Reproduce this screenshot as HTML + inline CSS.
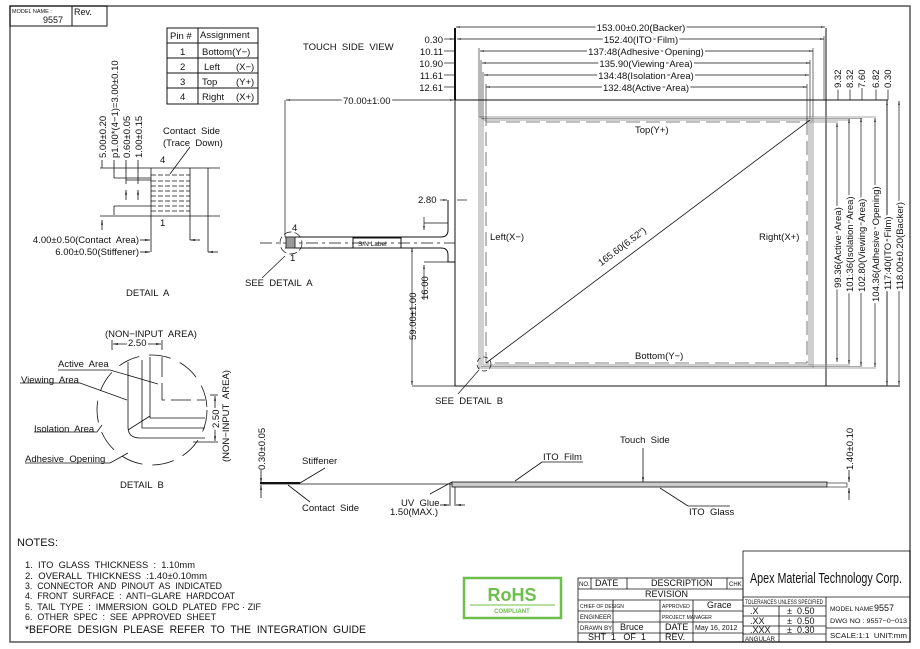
<!DOCTYPE html>
<html><head><meta charset="utf-8"><style>
html,body{margin:0;padding:0;background:#fff;}
svg{display:block;font-family:"Liberation Sans",sans-serif;}
text{fill:#111;white-space:pre;}
</style></head><body>
<svg width="920" height="649" viewBox="0 0 920 649" xmlns="http://www.w3.org/2000/svg" xml:space="preserve">
<defs>
<marker id="a" viewBox="0 0 10 10" refX="10" refY="5" markerWidth="6" markerHeight="6" orient="auto-start-reverse"><path d="M0,3 L10,5 L0,7 z" fill="#111"/></marker>
</defs>
<rect x="0" y="0" width="920" height="649" fill="#fff"/>
<rect x="10" y="6" width="900" height="636" fill="none" stroke="#555" stroke-width="1.5"/>
<g stroke="#111" fill="none" stroke-width="1">
<rect x="10" y="6" width="97" height="20"/><line x1="72" y1="6" x2="72" y2="26"/>
<rect x="167" y="28" width="91" height="76"/><line x1="198" y1="28" x2="198" y2="104"/>
<line x1="167" y1="43" x2="258" y2="43"/><line x1="167" y1="58" x2="258" y2="58"/><line x1="167" y1="73" x2="258" y2="73"/><line x1="167" y1="88" x2="258" y2="88"/>
</g>
<g font-size="7"><text x="12" y="13" font-size="5.5">MODEL NAME :</text><text x="43" y="23" font-size="9">9557</text><text x="74" y="15" font-size="9">Rev.</text></g>
<g font-size="9.5">
<text x="170" y="39">Pin #</text><text x="200" y="38">Assignment</text>
<text x="180" y="55">1</text><text x="202" y="55">Bottom(Y−)</text>
<text x="180" y="70">2</text><text x="204" y="70">Left</text><text x="236" y="70">(X−)</text>
<text x="180" y="85">3</text><text x="202" y="85">Top</text><text x="236" y="85">(Y+)</text>
<text x="180" y="100">4</text><text x="202" y="100">Right</text><text x="236" y="100">(X+)</text>
<text x="303" y="50">TOUCH  SIDE  VIEW</text>
</g>
<g stroke="#111" fill="none">
<line x1="455" y1="28" x2="455" y2="386"/><line x1="826" y1="28" x2="826" y2="386"/>
<line x1="455" y1="100" x2="888" y2="100"/><line x1="455" y1="386" x2="900" y2="386"/>
<line x1="455" y1="28" x2="455" y2="100" stroke-width="2"/>
<line x1="887" y1="100" x2="887" y2="386" stroke-width="0.7"/>
</g>
<g fill="none" stroke="#888" stroke-width="0.8">
<rect x="479" y="117" width="334" height="251"/>
<rect x="481" y="118.5" width="330" height="248"/>
<rect x="483" y="120" width="326" height="245"/>
<line x1="813" y1="117" x2="876" y2="117"/><line x1="811" y1="118.5" x2="862" y2="118.5"/><line x1="809" y1="120" x2="850" y2="120"/><line x1="809" y1="122" x2="838" y2="122"/>
<line x1="813" y1="368" x2="876" y2="368"/><line x1="811" y1="366.5" x2="862" y2="366.5"/><line x1="809" y1="365" x2="850" y2="365"/>
</g>
<rect x="486" y="122" width="321" height="241" fill="none" stroke="#555" stroke-dasharray="14,6" stroke-width="0.8"/>
<line x1="486" y1="363" x2="810" y2="120" stroke="#111" stroke-width="0.8"/>
<text transform="translate(624,249) rotate(-37)" font-size="9.5" text-anchor="middle" style="fill:#111;paint-order:stroke;stroke:#fff;stroke-width:3px">165.60(6.52")</text>
<g font-size="9.5">
<text x="635" y="133">Top(Y+)</text><text x="635" y="359">Bottom(Y−)</text>
<text x="490" y="240">Left(X−)</text><text x="759" y="240">Right(X+)</text>
</g>
<g stroke="#111" stroke-width="0.7" marker-start="url(#a)" marker-end="url(#a)">
<line x1="456" y1="27" x2="825" y2="27"/><line x1="457" y1="39" x2="824" y2="39"/>
<line x1="480" y1="51" x2="813" y2="51"/><line x1="482" y1="63" x2="810" y2="63"/>
<line x1="484" y1="75" x2="809" y2="75"/><line x1="486" y1="87" x2="807" y2="87"/>
</g>
<g stroke="#111" stroke-width="0.6"><line x1="479" y1="48" x2="479" y2="117"/><line x1="813" y1="48" x2="813" y2="117"/><line x1="481" y1="60" x2="481" y2="118"/><line x1="810" y1="60" x2="810" y2="118"/><line x1="483" y1="72" x2="483" y2="120"/><line x1="486" y1="84" x2="486" y2="122"/><line x1="807" y1="84" x2="807" y2="122"/><line x1="824" y1="36" x2="824" y2="100"/></g>
<g font-size="9.5" text-anchor="middle" style="paint-order:stroke;stroke:#fff;stroke-width:4px">
<text x="641" y="31">153.00±0.20(Backer)</text><text x="641" y="43">152.40(ITO  Film)</text>
<text x="646" y="55">137.48(Adhesive  Opening)</text><text x="646" y="67">135.90(Viewing  Area)</text>
<text x="646" y="79">134.48(Isolation  Area)</text><text x="646" y="91">132.48(Active  Area)</text>
</g>
<g font-size="9.5" text-anchor="end">
<text x="443" y="43">0.30</text><text x="443" y="55">10.11</text><text x="443" y="67">10.90</text><text x="443" y="79">11.61</text><text x="443" y="91">12.61</text>
</g>
<g stroke="#111" stroke-width="0.7"><line x1="444" y1="39" x2="454" y2="39" marker-end="url(#a)"/><line x1="444" y1="51" x2="454" y2="51"/><line x1="444" y1="63" x2="454" y2="63"/><line x1="444" y1="75" x2="454" y2="75"/><line x1="444" y1="87" x2="454" y2="87"/></g>
<g stroke="#111" stroke-width="0.7" marker-start="url(#a)" marker-end="url(#a)">
<line x1="837" y1="123" x2="837" y2="362"/><line x1="849" y1="119" x2="849" y2="364"/><line x1="861" y1="118" x2="861" y2="366"/><line x1="875" y1="118" x2="875" y2="367"/><line x1="887" y1="101" x2="887" y2="385"/><line x1="899" y1="101" x2="899" y2="385"/>
</g>
<g stroke="#111" stroke-width="0.7"><line x1="838" y1="88" x2="838" y2="100"/><line x1="850" y1="88" x2="850" y2="100"/><line x1="862" y1="88" x2="862" y2="100"/><line x1="876" y1="88" x2="876" y2="100"/><line x1="888" y1="88" x2="888" y2="100"/></g>
<g font-size="9.5" style="paint-order:stroke;stroke:#fff;stroke-width:4px">
<text transform="translate(841,288) rotate(-90)">99.36(Active  Area)</text>
<text transform="translate(853,292) rotate(-90)">101.36(Isolation  Area)</text>
<text transform="translate(865,292) rotate(-90)">102.80(Viewing  Area)</text>
<text transform="translate(879,302) rotate(-90)">104.36(Adhesive  Opening)</text>
<text transform="translate(891,290) rotate(-90)">117.40(ITO  Film)</text>
<text transform="translate(903,290) rotate(-90)">118.00±0.20(Backer)</text>
<text transform="translate(841,88) rotate(-90)">9.32</text><text transform="translate(853,88) rotate(-90)">8.32</text><text transform="translate(865,88) rotate(-90)">7.60</text><text transform="translate(879,88) rotate(-90)">6.82</text><text transform="translate(891,88) rotate(-90)">0.30</text>
</g>
<g stroke="#111" fill="none" stroke-width="1">
<path d="M285,237 H441 Q448,237 448,230 V200"/>
<path d="M285,248 H441 Q448,248 448,255 V262 H455"/>
<line x1="285" y1="100" x2="285" y2="237" stroke-width="0.7"/>
<line x1="286" y1="100" x2="454" y2="100" stroke-width="0.7" marker-start="url(#a)" marker-end="url(#a)"/>
<rect x="353" y="238" width="48" height="10" fill="#fff"/>
<line x1="260" y1="243" x2="455" y2="243" stroke-dasharray="12,4,3,4" stroke-width="0.7"/>
<rect x="286" y="237" width="9" height="11" fill="#999" stroke="#333"/>
<circle cx="291" cy="243" r="11" stroke-dasharray="8,3" stroke-width="0.7"/>
<line x1="285" y1="256" x2="262" y2="278" stroke-width="0.7"/>
<line x1="412" y1="248" x2="412" y2="385" stroke-width="0.7" marker-start="url(#a)" marker-end="url(#a)"/>
<line x1="412" y1="386" x2="455" y2="386" stroke-width="0.7"/>
<line x1="424" y1="265" x2="424" y2="300" stroke-width="0.7" marker-start="url(#a)"/>
<line x1="424" y1="262" x2="448" y2="262" stroke-width="0.7"/>
<line x1="424" y1="230" x2="424" y2="217" stroke-width="0.7" marker-start="url(#a)"/>
<line x1="424" y1="223" x2="448" y2="223" stroke-width="0.7"/>
<line x1="440" y1="200" x2="447" y2="200" stroke-width="0.7" marker-end="url(#a)"/>
<line x1="457" y1="200" x2="467" y2="200" stroke-width="0.7"/>
<circle cx="484" cy="364" r="7" stroke-dasharray="5,3" stroke-width="0.7"/>
<line x1="479" y1="370" x2="458" y2="394" stroke-width="0.7"/>
</g>
<text x="358" y="246" font-size="6.5">S/N Label</text>
<g font-size="9.5">
<text x="292" y="231">4</text><text x="290" y="261">1</text>
<text x="245" y="286">SEE  DETAIL  A</text><text x="435" y="404">SEE  DETAIL  B</text>
<text x="418" y="203">2.80</text>
<text transform="translate(416,340) rotate(-90)">59.00±1.00</text>
<text transform="translate(428,300) rotate(-90)">16.00</text>
<text x="343" y="104" style="paint-order:stroke;stroke:#fff;stroke-width:4px">70.00±1.00</text>
</g>
<g stroke="#111" fill="none" stroke-width="0.8">
<line x1="100" y1="168" x2="220" y2="168"/><line x1="100" y1="216" x2="220" y2="216"/>
<line x1="151" y1="168" x2="151" y2="252"/><line x1="190" y1="168" x2="190" y2="240"/><line x1="208" y1="168" x2="208" y2="252"/>
<g stroke-dasharray="5,2"><line x1="151" y1="175" x2="190" y2="175"/><line x1="151" y1="181" x2="190" y2="181"/><line x1="151" y1="186" x2="190" y2="186"/><line x1="151" y1="191" x2="190" y2="191"/><line x1="151" y1="196" x2="190" y2="196"/><line x1="151" y1="201" x2="190" y2="201"/><line x1="151" y1="206" x2="190" y2="206"/><line x1="151" y1="211" x2="190" y2="211"/></g>
<line x1="170" y1="174" x2="190" y2="147"/>
<line x1="102" y1="160" x2="102" y2="168"/><line x1="114" y1="160" x2="114" y2="178"/><line x1="114" y1="178" x2="151" y2="178"/><line x1="126" y1="160" x2="126" y2="184"/><line x1="138" y1="160" x2="138" y2="184"/>
<line x1="126" y1="180" x2="151" y2="180"/>
<line x1="126" y1="190" x2="126" y2="200" marker-start="url(#a)"/><line x1="138" y1="190" x2="138" y2="200" marker-start="url(#a)"/>
<line x1="114" y1="206" x2="114" y2="215"/><line x1="114" y1="206" x2="151" y2="206"/>
<line x1="102" y1="220" x2="102" y2="230" marker-start="url(#a)"/>
<line x1="140" y1="240" x2="150" y2="240" marker-end="url(#a)"/><line x1="140" y1="252" x2="150" y2="252" marker-end="url(#a)"/>
<line x1="200" y1="240" x2="190" y2="240" marker-end="url(#a)"/><line x1="218" y1="252" x2="208" y2="252" marker-end="url(#a)"/>
</g>
<g font-size="9.5">
<text transform="translate(106,158) rotate(-90)">5.00±0.20</text>
<text transform="translate(118,158) rotate(-90)">p1.00*(4−1)=3.00±0.10</text>
<text transform="translate(130,158) rotate(-90)">0.60±0.05</text>
<text transform="translate(142,158) rotate(-90)">1.00±0.15</text>
<text x="163" y="134">Contact  Side</text><text x="163" y="146">(Trace  Down)</text>
<text x="160" y="163">4</text><text x="160" y="226">1</text>
<text x="139" y="243" text-anchor="end">4.00±0.50(Contact  Area)</text>
<text x="139" y="255" text-anchor="end">6.00±0.50(Stiffener)</text>
<text x="126" y="296">DETAIL  A</text>
</g>
<g stroke="#111" fill="none" stroke-width="0.8">
<circle cx="152" cy="410" r="55" stroke-dasharray="22,10"/>
<path d="M128,362 V427 Q128,438 140,438 H205"/>
<path d="M142,360 V428 H205"/>
<path d="M150,357 V418 H205"/>
<path d="M162,357 V400 H205" stroke-dasharray="20,6"/>
<line x1="112" y1="350" x2="112" y2="340"/><line x1="162" y1="350" x2="162" y2="340"/>
<line x1="113" y1="344" x2="161" y2="344" marker-start="url(#a)" marker-end="url(#a)"/>
<line x1="210" y1="395" x2="218" y2="395"/><line x1="193" y1="442" x2="218" y2="442"/>
<line x1="215" y1="396" x2="215" y2="441" marker-start="url(#a)" marker-end="url(#a)"/>
<path d="M58,370 H110 L158,384"/>
<path d="M20,383 H80 L127,400"/>
<path d="M34,432 H97 L102,425"/>
<path d="M25,463 H110 L128,453"/>
<line x1="128" y1="430" x2="150" y2="416"/>
</g>
<g font-size="9.5">
<text x="105" y="337">(NON−INPUT  AREA)</text>
<text x="128" y="346" style="paint-order:stroke;stroke:#fff;stroke-width:4px">2.50</text>
<text transform="translate(219,428) rotate(-90)" style="paint-order:stroke;stroke:#fff;stroke-width:4px">2.50</text>
<text transform="translate(229,462) rotate(-90)">(NON−INPUT  AREA)</text>
<text x="58" y="367">Active  Area</text><text x="21" y="383">Viewing  Area</text>
<text x="34" y="432">Isolation  Area</text><text x="25" y="462">Adhesive  Opening</text>
<text x="120" y="488">DETAIL  B</text>
</g>
<g stroke="#111" fill="none" stroke-width="0.8">
<line x1="260" y1="484" x2="452" y2="484"/>
<line x1="260" y1="483" x2="300" y2="483" stroke-width="2"/>
<rect x="452" y="482" width="375" height="5" fill="#ccc"/>
<rect x="827" y="483" width="20" height="4" fill="#fff" stroke-width="0.6"/>
<line x1="261" y1="470" x2="261" y2="483" marker-end="url(#a)"/><line x1="261" y1="498" x2="261" y2="485" marker-end="url(#a)"/>
<line x1="849" y1="470" x2="849" y2="482" marker-end="url(#a)"/><line x1="849" y1="500" x2="849" y2="488" marker-end="url(#a)"/>
<line x1="300" y1="483" x2="325" y2="468"/><line x1="288" y1="485" x2="310" y2="502"/>
<line x1="450" y1="484" x2="450" y2="506"/><line x1="455" y1="487" x2="455" y2="506"/>
<line x1="440" y1="505" x2="449" y2="505" marker-end="url(#a)"/><line x1="465" y1="505" x2="456" y2="505" marker-end="url(#a)"/>
<line x1="452" y1="482" x2="430" y2="494"/>
<line x1="515" y1="481" x2="542" y2="462" /><line x1="542" y1="462" x2="583" y2="462"/>
<line x1="643" y1="448" x2="643" y2="482" marker-end="url(#a)"/>
<line x1="660" y1="488" x2="688" y2="506"/><line x1="688" y1="506" x2="730" y2="506"/>
</g>
<g font-size="9.5">
<text transform="translate(265,470) rotate(-90)">0.30±0.05</text>
<text transform="translate(853,470) rotate(-90)">1.40±0.10</text>
<text x="302" y="464">Stiffener</text><text x="302" y="511">Contact  Side</text>
<text x="401" y="506">UV  Glue</text><text x="390" y="515">1.50(MAX.)</text>
<text x="543" y="460">ITO  Film</text><text x="620" y="443">Touch  Side</text><text x="689" y="515">ITO  Glass</text>
</g>
<g font-size="9.5">
<text x="17" y="546" font-size="11">NOTES:</text>
<text x="25" y="568" textLength="170" lengthAdjust="spacingAndGlyphs">1.  ITO  GLASS  THICKNESS  :  1.10mm</text>
<text x="25" y="579" textLength="182" lengthAdjust="spacingAndGlyphs">2.  OVERALL  THICKNESS  :1.40±0.10mm</text>
<text x="25" y="589" textLength="197" lengthAdjust="spacingAndGlyphs">3.  CONNECTOR  AND  PINOUT  AS  INDICATED</text>
<text x="25" y="599" textLength="210" lengthAdjust="spacingAndGlyphs">4.  FRONT  SURFACE  :  ANTI−GLARE  HARDCOAT</text>
<text x="25" y="610" textLength="236" lengthAdjust="spacingAndGlyphs">5.  TAIL  TYPE  :  IMMERSION  GOLD  PLATED  FPC · ZIF</text>
<text x="25" y="620" textLength="191" lengthAdjust="spacingAndGlyphs">6.  OTHER  SPEC  :  SEE  APPROVED  SHEET</text>
<text x="25" y="633" font-size="11" textLength="341" lengthAdjust="spacingAndGlyphs">*BEFORE  DESIGN  PLEASE  REFER  TO  THE  INTEGRATION  GUIDE</text>
</g>
<rect x="464" y="578" width="97" height="40" fill="#fff" stroke="#6cbf4a" stroke-width="2.5"/>
<line x1="470" y1="605" x2="555" y2="605" stroke="#6cbf4a"/>
<text x="512" y="601" font-size="18" font-weight="bold" text-anchor="middle" style="fill:#6cbf4a">RoHS</text>
<text x="512" y="613" font-size="6" font-weight="bold" text-anchor="middle" style="fill:#6cbf4a">COMPLIANT</text>
<g stroke="#111" fill="none" stroke-width="0.8">
<rect x="743" y="551" width="167" height="91"/>
<line x1="743" y1="597" x2="910" y2="597"/><line x1="826" y1="597" x2="826" y2="642"/>
<line x1="743" y1="606" x2="826" y2="606"/><line x1="743" y1="616" x2="826" y2="616"/><line x1="743" y1="626" x2="826" y2="626"/><line x1="743" y1="634" x2="826" y2="634"/>
<line x1="779" y1="606" x2="779" y2="642"/><line x1="826" y1="628" x2="910" y2="628"/>
<rect x="578" y="578" width="165" height="64"/>
<line x1="578" y1="589" x2="743" y2="589"/><line x1="578" y1="600" x2="743" y2="600"/><line x1="578" y1="611" x2="743" y2="611"/><line x1="578" y1="622" x2="743" y2="622"/><line x1="578" y1="633" x2="743" y2="633"/>
<line x1="591" y1="578" x2="591" y2="589"/><line x1="627" y1="578" x2="627" y2="589"/><line x1="727" y1="578" x2="727" y2="589"/>
<line x1="613" y1="600" x2="613" y2="633"/><line x1="660" y1="600" x2="660" y2="642"/><line x1="693" y1="600" x2="693" y2="642"/>
</g>
<g font-size="9">
<text x="750" y="583" font-size="15" textLength="152" lengthAdjust="spacingAndGlyphs">Apex Material Technology Corp.</text>
<text x="745" y="604" font-size="6" textLength="78" lengthAdjust="spacingAndGlyphs">TOLERANCES UNLESS SPECIFIED</text>
<text x="750" y="614">.X</text><text x="787" y="614">±  0.50</text>
<text x="750" y="624">.XX</text><text x="787" y="624">±  0.50</text>
<text x="750" y="633">.XXX</text><text x="787" y="633">±  0.30</text>
<text x="745" y="641" font-size="6.5" textLength="30" lengthAdjust="spacingAndGlyphs">ANGULAR</text>
<text x="830" y="611" font-size="6.5">MODEL NAME :</text><text x="874" y="611">9557</text>
<text x="830" y="623" font-size="6.5" textLength="77" lengthAdjust="spacingAndGlyphs">DWG NO : 9557−0−013</text>
<text x="830" y="638" font-size="7.5" textLength="77" lengthAdjust="spacingAndGlyphs">SCALE:1:1  UNIT:mm</text>
<text x="579" y="586" font-size="6">NO.</text><text x="595" y="586">DATE</text><text x="651" y="586">DESCRIPTION</text><text x="729" y="586" font-size="6">CHK</text>
<text x="645" y="597">REVISION</text>
<text x="580" y="608" font-size="5">CHIEF OF DESIGN</text><text x="662" y="608" font-size="5">APPROVED</text><text x="707" y="608">Grace</text>
<text x="580" y="619" font-size="6">ENGINEER</text><text x="662" y="619" font-size="5">PROJECT MANAGER</text>
<text x="580" y="630" font-size="6">DRAWN BY</text><text x="620" y="630">Bruce</text><text x="665" y="630">DATE</text><text x="695" y="630" font-size="7">May 16, 2012</text>
<text x="588" y="640">SHT  1   OF  1</text><text x="665" y="640">REV.</text>
</g>
</svg>
</body></html>
